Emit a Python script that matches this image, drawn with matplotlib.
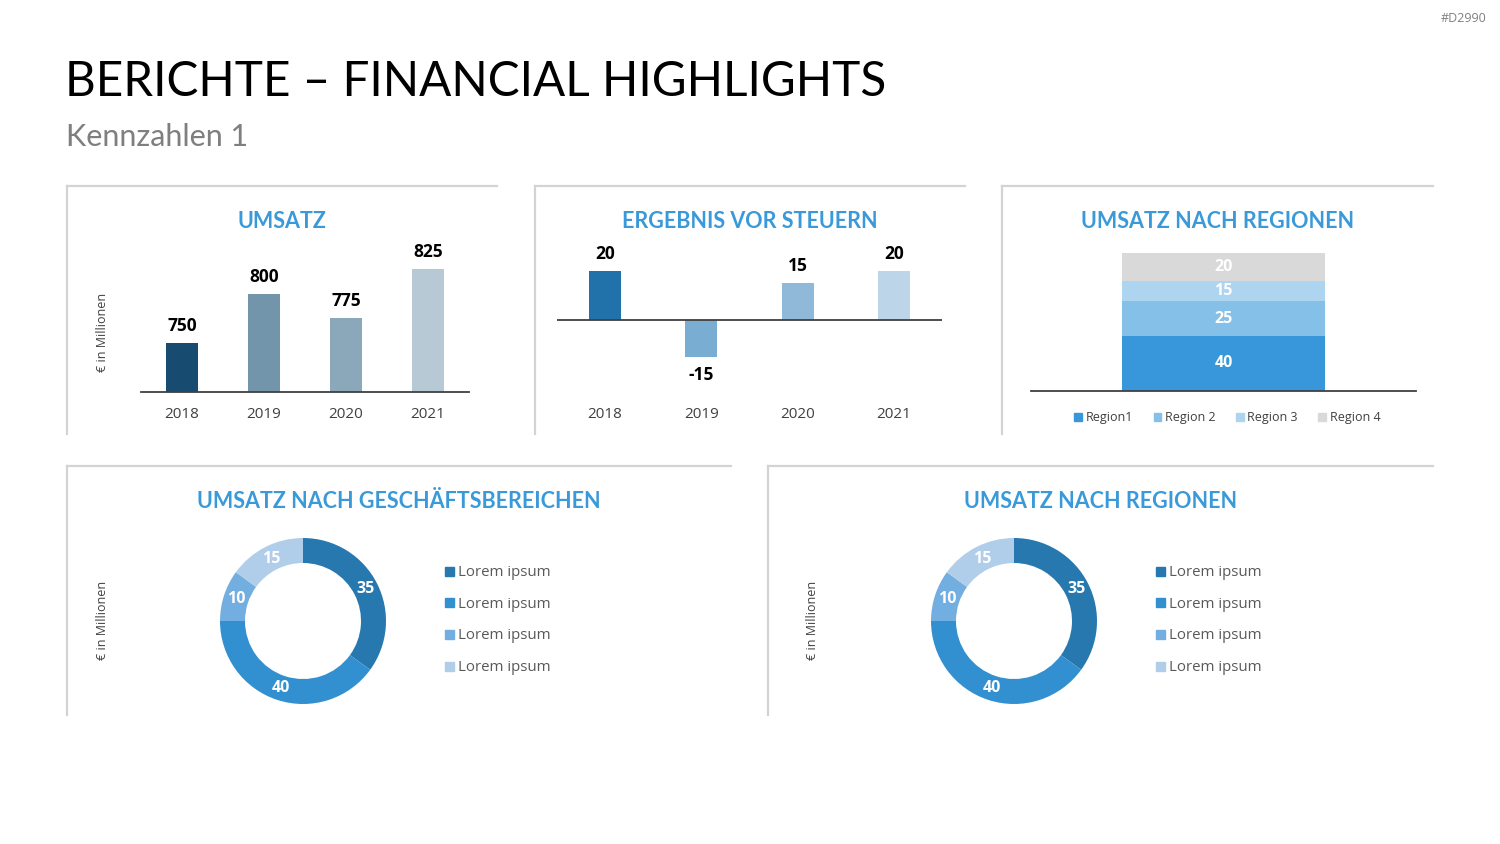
import numpy as np
import matplotlib
matplotlib.use("Agg")
import matplotlib.pyplot as plt
from matplotlib.lines import Line2D
from matplotlib.patches import Patch

# data
years = ["2018", "2019", "2020", "2021"]
umsatz = [750, 800, 775, 825]
ergebnis = [20, -15, 15, 20]
regions = ["Region1", "Region 2", "Region 3", "Region 4"]
region_vals = [40, 25, 15, 20]
segments = ["Lorem ipsum", "Lorem ipsum", "Lorem ipsum", "Lorem ipsum"]
segment_vals = [35, 40, 10, 15]

umsatz_colors = ["#174B70", "#7295AC", "#8BA8BB", "#B8C9D6"]
ergebnis_colors = ["#2171AA", "#7AADD2", "#8FB8D9", "#BDD5E8"]
region_colors = ["#3897DB", "#85C0E8", "#AED5F0", "#D9D9D9"]
donut_colors = ["#2878B0", "#3390D0", "#72AEE0", "#B0CDEA"]

TITLE_BLUE = "#3A9AD9"
FONT = "Lato"
BODY = "Open Sans"

W, H = 1500, 844
fig = plt.figure(figsize=(15, 8.44), dpi=100)
fig.patch.set_facecolor("white")


def px(x, y):
    return x / W, 1 - y / H


def ax_px(x0, y0, x1, y1):
    return fig.add_axes([x0 / W, 1 - y1 / H, (x1 - x0) / W, (y1 - y0) / H])


def panel(x0, x1, y0, y1):
    fig.add_artist(Line2D([x0 / W, x1 / W], [1 - y0 / H] * 2, color="#D3D3D3", lw=1.6))
    fig.add_artist(Line2D([x0 / W] * 2, [1 - y0 / H, 1 - y1 / H], color="#D3D3D3", lw=1.6))


def ftext(x, y, s, **kw):
    fx, fy = px(x, y)
    fig.text(fx, fy, s, **kw)


# header
ftext(1486, 19, "#D2990", ha="right", va="center", fontsize=9, color="#7F7F7F", family=BODY)
ftext(65, 82, "BERICHTE – FINANCIAL HIGHLIGHTS", ha="left", va="center", fontsize=34.3,
      color="#000000", family=FONT)
ftext(66, 137, "Kennzahlen 1", ha="left", va="center", fontsize=22, color="#7F7F7F", family=FONT)

# panels
panel(67, 497, 186, 434)
panel(535, 965, 186, 434)
panel(1002, 1433, 186, 434)
panel(67, 731, 466, 715)
panel(768, 1433, 466, 715)

title_kw = dict(ha="center", va="center", fontsize=15.5, fontweight="bold", color=TITLE_BLUE, family=FONT)
ftext(282, 221, "UMSATZ", **title_kw)
ftext(750, 221, "ERGEBNIS VOR STEUERN", **title_kw)
ftext(1218, 221, "UMSATZ NACH REGIONEN", **title_kw)
ftext(399, 502, "UMSATZ NACH GESCHÄFTSBEREICHEN", **title_kw)
ftext(1101, 502, "UMSATZ NACH REGIONEN", **title_kw)

ylab_kw = dict(ha="center", va="center", rotation=90, fontsize=9, color="#404040", family=BODY)
ftext(103, 332, "€ in Millionen", **ylab_kw)
ftext(103, 620, "€ in Millionen", **ylab_kw)
ftext(813, 620, "€ in Millionen", **ylab_kw)


def clean(ax):
    for s in ["top", "right", "left"]:
        ax.spines[s].set_visible(False)
    ax.set_yticks([])
    ax.patch.set_alpha(0)


# chart 1: Umsatz
ax1 = ax_px(141, 240, 469, 392)
x = np.arange(len(years))
ax1.bar(x, umsatz, width=0.40, color=umsatz_colors)
ax1.set_xlim(-0.5, 3.5)
ax1.set_ylim(700, 855)
clean(ax1)
ax1.spines["bottom"].set_color("#404040")
ax1.spines["bottom"].set_linewidth(1.3)
ax1.set_xticks(x)
ax1.set_xticklabels(years, fontsize=11, color="#404040", family=BODY)
ax1.tick_params(axis="x", length=0, pad=11)
for xi, v in zip(x, umsatz):
    ax1.annotate(str(v), (xi, v), xytext=(0, 6), textcoords="offset points", ha="center",
                 va="bottom", fontsize=12.5, fontweight="bold", color="black", family=BODY)

# chart 2: Ergebnis vor Steuern
ax2 = ax_px(557, 240, 942, 392)
ax2.bar(x, ergebnis, width=0.33, color=ergebnis_colors)
ax2.set_xlim(-0.5, 3.5)
ax2.set_ylim(-(392 - 320) / 2.45, (320 - 240) / 2.45)
clean(ax2)
ax2.spines["bottom"].set_visible(False)
ax2.axhline(0, color="#404040", lw=1.3)
ax2.set_xticks(x)
ax2.set_xticklabels(years, fontsize=11, color="#404040", family=BODY)
ax2.tick_params(axis="x", length=0, pad=11)
for xi, v in zip(x, ergebnis):
    if v >= 0:
        ax2.annotate(str(v), (xi, v), xytext=(0, 6), textcoords="offset points", ha="center",
                     va="bottom", fontsize=12.5, fontweight="bold", color="black", family=BODY)
    else:
        ax2.annotate(str(v), (xi, v), xytext=(0, -7), textcoords="offset points", ha="center",
                     va="top", fontsize=12.5, fontweight="bold", color="black", family=BODY)

# chart 3: stacked regions
ax3 = ax_px(1031, 240, 1416, 391)
bottom = 0
for name, v, c in zip(regions, region_vals, region_colors):
    ax3.bar(0, v, bottom=bottom, width=0.527, color=c, label=name)
    ax3.text(0, bottom + v / 2, str(v), ha="center", va="center", fontsize=11.5,
             fontweight="bold", color="white", family=BODY)
    bottom += v
ax3.set_xlim(-0.5, 0.5)
ax3.set_ylim(0, 151 / 1.38)
clean(ax3)
ax3.set_xticks([])
ax3.spines["bottom"].set_color("#404040")
ax3.spines["bottom"].set_linewidth(1.3)
handles = [Patch(color=c) for c in region_colors]
leg = ax3.legend(handles, regions, loc="upper center", bbox_to_anchor=(0.51, -0.06), ncol=4,
                 frameon=False, handlelength=0.6, handleheight=0.6,
                 handletextpad=0.3, columnspacing=1.65, prop={"family": BODY, "size": 9})
for t in leg.get_texts():
    t.set_color("#404040")


# donuts
def donut(cx, cy, lx):
    r = 83
    ax = ax_px(cx - r, cy - r, cx + r, cy + r)
    ax.pie(segment_vals, colors=donut_colors, startangle=90, counterclock=False,
           radius=1.0, wedgeprops=dict(width=25 / 83, linewidth=0))
    ax.set_xlim(-1, 1)
    ax.set_ylim(-1, 1)
    ax.set_aspect("equal")
    ax.axis("off")
    total = sum(segment_vals)
    cum = 0
    for v in segment_vals:
        mid = (cum + v / 2) / total * 2 * np.pi
        rr = 70 / 83
        ax.text(rr * np.sin(mid), rr * np.cos(mid), str(v), ha="center", va="center",
                fontsize=11.5, fontweight="bold", color="white", family=BODY)
        cum += v
    for i, (name, c) in enumerate(zip(segments, donut_colors)):
        yy = 571 + i * 31.7
        fig.add_artist(plt.Rectangle(((lx - 4) / W, 1 - (yy + 4.5) / H), 9 / W, 9 / H,
                                     color=c, transform=fig.transFigure))
        ftext(lx + 9, yy + 1.5, name, ha="left", va="center", fontsize=10.8, color="#595959", family=BODY)


donut(303, 621, 449)
donut(1014, 621, 1160)

fig.savefig("out.png", dpi=100, facecolor="white")
